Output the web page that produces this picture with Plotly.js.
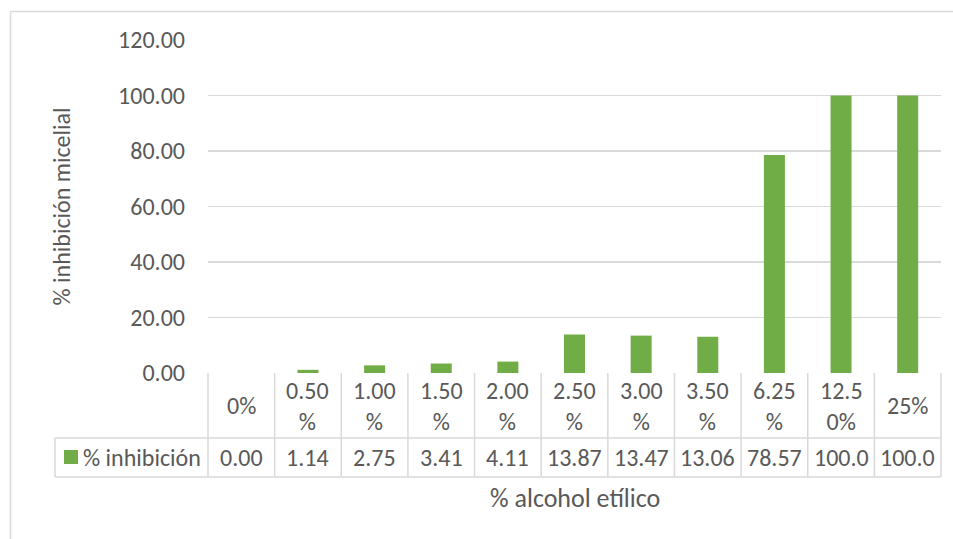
<!DOCTYPE html>
<html>
<head>
<meta charset="utf-8">
<script src="https://cdn.plot.ly/plotly-3.0.1.min.js"></script>
<style>html,body{margin:0;padding:0;background:#fff;}#chart{width:953px;height:539px;}</style>
</head>
<body>
<div id="chart"></div>
<script>
// ---- data ----
const categories = ["0%", "0.50%", "1.00%", "1.50%", "2.00%", "2.50%", "3.00%", "3.50%", "6.25%", "12.50%", "25%"];
const inhibicion = [0.00, 1.14, 2.75, 3.41, 4.11, 13.87, 13.47, 13.06, 78.57, 100.0, 100.0];
const seriesName = "% inhibición";
const yTitle = "% inhibición micelial";
const xTitle = "% alcohol etílico";
const yTickVals = [0, 20, 40, 60, 80, 100, 120];

// ---- layout geometry (pixels) ----
const W = 953, H = 539;
const mL = 208, mR = 12, mT = 40, mB = 166;
const pw = W - mL - mR, ph = H - mT - mB;
const px2x = p => (p - mL) / pw;
const py2y = p => (H - mB - p) / ph;

const fontFam = "Carlito, 'Open Sans', 'Noto Sans', sans-serif";
const txtCol = "#595959";
const lineCol = "#D9D9D9";
const green = "#70AD47";

const n = categories.length;
const wrap = s => s.length > 4 ? s.slice(0, 4) + "<br>" + s.slice(4) : s;
const fmt = v => v.toFixed(2).slice(0, 5);

const rowTop = 373, rowMid = 438, rowBot = 477, legLeft = 55;

const shapes = [];
// outer chart border (left and top)
shapes.push({type: "line", xref: "paper", yref: "paper", x0: px2x(10.5), x1: px2x(10.5), y0: py2y(11.5), y1: py2y(560), line: {color: lineCol, width: 1.5}});
shapes.push({type: "line", xref: "paper", yref: "paper", x0: px2x(10.5), x1: px2x(960), y0: py2y(11.5), y1: py2y(11.5), line: {color: lineCol, width: 1.5}});
// data table lines
for (let i = 0; i <= n; i++) {
  shapes.push({type: "line", xref: "paper", yref: "paper", x0: i / n, x1: i / n, y0: py2y(rowTop), y1: py2y(rowBot), line: {color: lineCol, width: 1.5}});
}
shapes.push({type: "line", xref: "paper", yref: "paper", x0: px2x(legLeft), x1: 1, y0: py2y(rowMid), y1: py2y(rowMid), line: {color: lineCol, width: 1.5}});
shapes.push({type: "line", xref: "paper", yref: "paper", x0: px2x(legLeft), x1: 1, y0: py2y(rowBot), y1: py2y(rowBot), line: {color: lineCol, width: 1.5}});
shapes.push({type: "line", xref: "paper", yref: "paper", x0: px2x(legLeft), x1: px2x(legLeft), y0: py2y(rowMid), y1: py2y(rowBot), line: {color: lineCol, width: 1.5}});
// legend key
shapes.push({type: "rect", xref: "paper", yref: "paper", x0: px2x(64), x1: px2x(78), y0: py2y(450), y1: py2y(464), fillcolor: green, line: {width: 0}});

const annotations = [];
categories.forEach((c, i) => {
  annotations.push({xref: "paper", yref: "paper", x: (i + 0.5) / n, y: py2y((rowTop + rowMid) / 2), text: wrap(c), showarrow: false, xanchor: "center", yanchor: "middle", font: {family: fontFam, size: 24, color: txtCol}});
  annotations.push({xref: "paper", yref: "paper", x: (i + 0.5) / n, y: py2y((rowMid + rowBot) / 2), text: fmt(inhibicion[i]), showarrow: false, xanchor: "center", yanchor: "middle", font: {family: fontFam, size: 24, color: txtCol}});
});
annotations.push({xref: "paper", yref: "paper", x: px2x(81), y: py2y((rowMid + rowBot) / 2), text: seriesName, showarrow: false, xanchor: "left", yanchor: "middle", font: {family: fontFam, size: 24, color: txtCol}});
annotations.push({xref: "paper", yref: "paper", x: 0.5, y: py2y(498), text: xTitle, showarrow: false, xanchor: "center", yanchor: "middle", font: {family: fontFam, size: 26, color: txtCol}});

const trace = {
  type: "bar",
  x: categories,
  y: inhibicion,
  name: seriesName,
  marker: {color: green, line: {width: 0}},
  hoverinfo: "x+y"
};

const layout = {
  width: W, height: H,
  margin: {l: mL, r: mR, t: mT, b: mB, pad: 0},
  paper_bgcolor: "#fff", plot_bgcolor: "#fff",
  showlegend: false,
  bargap: 0.685,
  font: {family: fontFam, color: txtCol},
  xaxis: {
    type: "category", categoryorder: "array", categoryarray: categories,
    showticklabels: false, ticks: "", showgrid: false, zeroline: false,
    showline: false, fixedrange: true
  },
  yaxis: {
    range: [0, 120], tickvals: yTickVals, tickformat: ".2f",
    showgrid: true, gridcolor: lineCol, gridwidth: 1.3,
    zeroline: false, showline: false, ticks: "",
    ticklabelstandoff: 22,
    tickfont: {family: fontFam, size: 24, color: txtCol},
    title: {text: yTitle, font: {family: fontFam, size: 24, color: txtCol}, standoff: 40},
    fixedrange: true
  },
  shapes: shapes,
  annotations: annotations
};

Plotly.newPlot("chart", [trace], layout, {displayModeBar: false, staticPlot: true});
</script>
</body>
</html>
